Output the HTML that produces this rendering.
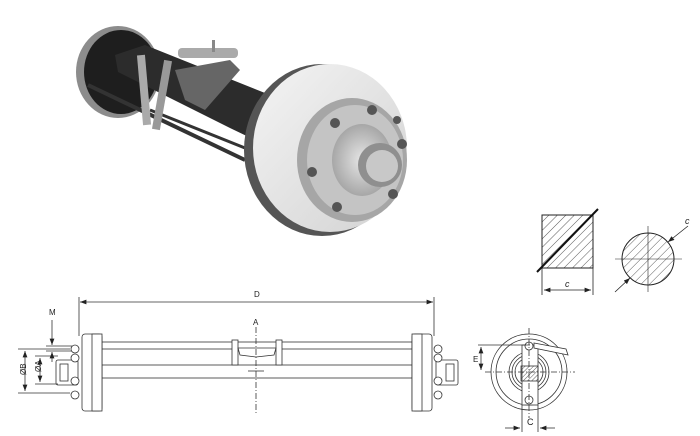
<!DOCTYPE html>
<html><head><meta charset="utf-8"><style>html,body{margin:0;padding:0;background:#fff}svg{display:block}text{font-family:"Liberation Sans",sans-serif;fill:#222}</style></head><body>
<svg width="700" height="436" viewBox="0 0 700 436" xmlns="http://www.w3.org/2000/svg">
<defs>
<pattern id="h" width="6" height="6" patternUnits="userSpaceOnUse" patternTransform="rotate(45)"><line x1="0" y1="0" x2="0" y2="6" stroke="#333" stroke-width="0.8"/></pattern>
<pattern id="h2" width="3" height="3" patternUnits="userSpaceOnUse" patternTransform="rotate(45)"><line x1="0" y1="0" x2="0" y2="3" stroke="#333" stroke-width="0.8"/></pattern>
<marker id="ar" markerWidth="8" markerHeight="6" refX="8" refY="3" orient="auto"><path d="M0,0 L8,3 L0,6z" fill="#222"/></marker>
<marker id="al" markerWidth="8" markerHeight="6" refX="0" refY="3" orient="auto"><path d="M8,0 L0,3 L8,6z" fill="#222"/></marker>
<linearGradient id="face" x1="0" y1="0" x2="1" y2="1"><stop offset="0" stop-color="#f4f4f4"/><stop offset="1" stop-color="#d2d2d2"/></linearGradient>
<radialGradient id="hub" cx="0.5" cy="0.5" r="0.6"><stop offset="0" stop-color="#e6e6e6"/><stop offset="1" stop-color="#9a9a9a"/></radialGradient>
</defs>
<!-- photo -->
<ellipse cx="118" cy="72" rx="42" ry="46" fill="#8c8c8c"/>
<ellipse cx="121" cy="72" rx="37" ry="42" fill="#1e1e1e"/>
<polygon points="115,55 145,45 270,95 255,140 230,128 118,72" fill="#2c2c2c"/>
<polygon points="175,70 230,60 240,70 205,110 185,100" fill="#666"/>
<rect x="178" y="48" width="60" height="10" rx="4" fill="#aaa"/>
<rect x="212" y="40" width="3" height="12" fill="#888"/>
<line x1="88" y1="85" x2="245" y2="160" stroke="#333" stroke-width="4"/>
<line x1="150" y1="110" x2="250" y2="150" stroke="#333" stroke-width="3"/>
<rect x="140" y="55" width="8" height="70" fill="#aaa" transform="rotate(-5 144 90)"/>
<rect x="158" y="60" width="8" height="70" fill="#999" transform="rotate(10 162 95)"/>
<ellipse cx="322" cy="150" rx="78" ry="86" fill="#555"/>
<ellipse cx="330" cy="148" rx="77" ry="84" fill="url(#face)"/>
<ellipse cx="352" cy="160" rx="55" ry="62" fill="#a6a6a6"/>
<ellipse cx="355" cy="160" rx="48" ry="55" fill="#c4c4c4"/>
<ellipse cx="362" cy="160" rx="30" ry="36" fill="url(#hub)"/>
<circle cx="380" cy="165" r="22" fill="#8f8f8f"/>
<circle cx="382" cy="166" r="16" fill="#c8c8c8"/>
<g fill="#555"><circle cx="372" cy="110" r="5"/><circle cx="335" cy="123" r="5"/><circle cx="402" cy="144" r="5"/><circle cx="312" cy="172" r="5"/><circle cx="393" cy="194" r="5"/><circle cx="337" cy="207" r="5"/><circle cx="397" cy="120" r="4"/></g>
<!-- square section -->
<rect x="542" y="215" width="51" height="53" fill="url(#h)" stroke="#222" stroke-width="1"/>
<line x1="537" y1="272" x2="598" y2="209" stroke="#111" stroke-width="2"/>
<line x1="542" y1="268" x2="542" y2="295" stroke="#222" stroke-width="0.8"/>
<line x1="593" y1="268" x2="593" y2="295" stroke="#222" stroke-width="0.8"/>
<line x1="544" y1="290" x2="591" y2="290" stroke="#222" stroke-width="0.8" marker-end="url(#ar)" marker-start="url(#al)"/>
<text x="565" y="287" font-size="9" font-style="italic">c</text>
<!-- round section -->
<circle cx="648" cy="259" r="26" fill="url(#h)" stroke="#222" stroke-width="1"/>
<line x1="615" y1="259" x2="682" y2="259" stroke="#222" stroke-width="0.6"/>
<line x1="648" y1="226" x2="648" y2="292" stroke="#222" stroke-width="0.6"/>
<line x1="688" y1="226" x2="668" y2="242" stroke="#222" stroke-width="0.8" marker-end="url(#ar)"/>
<line x1="615" y1="292" x2="630" y2="278" stroke="#222" stroke-width="0.8" marker-end="url(#ar)"/>
<text x="685" y="224" font-size="9" font-style="italic">c</text>
<!-- side drawing -->
<g stroke="#333" stroke-width="0.8" fill="#fff">
<line x1="80" y1="302" x2="433" y2="302" marker-start="url(#al)" marker-end="url(#ar)"/>
<line x1="79" y1="297" x2="79" y2="336" /><line x1="434" y1="297" x2="434" y2="336"/>
<rect x="102" y="342" width="310" height="7"/>
<rect x="102" y="365" width="310" height="13"/>
<rect x="232" y="340" width="6" height="25"/><rect x="276" y="340" width="6" height="25"/>
<path d="M238,348 L276,348 L274,355 L256,357 L240,355z"/>
<rect x="82" y="334" width="20" height="77" rx="3"/><rect x="92" y="334" width="10" height="77"/>
<rect x="412" y="334" width="20" height="77" rx="3"/><rect x="412" y="334" width="10" height="77"/>
<rect x="56" y="360" width="22" height="25" rx="2"/><rect x="60" y="364" width="8" height="17"/>
<rect x="436" y="360" width="22" height="25" rx="2"/><rect x="446" y="364" width="8" height="17"/>
<circle cx="75" cy="349" r="4"/><circle cx="75" cy="358" r="4"/><circle cx="75" cy="381" r="4"/><circle cx="75" cy="395" r="4"/>
<circle cx="438" cy="349" r="4"/><circle cx="438" cy="358" r="4"/><circle cx="438" cy="381" r="4"/><circle cx="438" cy="395" r="4"/>
<line x1="256" y1="327" x2="256" y2="415" stroke-dasharray="6,2,1,2"/>
<line x1="248" y1="371" x2="264" y2="371"/>
<line x1="18" y1="349" x2="70" y2="349"/><line x1="18" y1="393" x2="70" y2="393"/>
<line x1="25" y1="351" x2="25" y2="391" marker-start="url(#al)" marker-end="url(#ar)"/>
<line x1="35" y1="356" x2="58" y2="356"/><line x1="35" y1="384" x2="58" y2="384"/>
<line x1="40" y1="358" x2="40" y2="382" marker-start="url(#al)" marker-end="url(#ar)"/>
<line x1="52" y1="320" x2="52" y2="345" marker-end="url(#ar)"/>
<line x1="52" y1="362" x2="52" y2="352" marker-end="url(#ar)"/>
<line x1="46" y1="346" x2="72" y2="346"/><line x1="46" y1="351" x2="72" y2="351"/>
</g>
<text x="254" y="297" font-size="8">D</text>
<text x="253" y="325" font-size="8">A</text>
<text x="49" y="315" font-size="8">M</text>
<text x="22" y="379" font-size="8" transform="rotate(-90 22 375)">ØB</text>
<text x="37" y="376" font-size="8" transform="rotate(-90 37 372)">ØA</text>
<!-- end view -->
<g stroke="#333" stroke-width="0.8" fill="none">
<circle cx="529" cy="372" r="38"/><circle cx="529" cy="372" r="33"/>
<circle cx="529" cy="372" r="20"/><circle cx="529" cy="372" r="17"/><circle cx="529" cy="372" r="14"/>
<rect x="522" y="345" width="16" height="60" fill="#fff"/>
<rect x="521" y="366" width="17" height="15" fill="url(#h2)"/>
<circle cx="529" cy="346" r="4" fill="#fff"/><circle cx="529" cy="400" r="4"/>
<path d="M534,343 L566,349 L568,355 L534,348z" fill="#fff"/>
<line x1="485" y1="372" x2="575" y2="372" stroke-dasharray="6,2,1,2"/>
<line x1="529" y1="328" x2="529" y2="418" stroke-dasharray="6,2,1,2"/>
<line x1="478" y1="345" x2="530" y2="345"/>
<line x1="481" y1="347" x2="481" y2="370" marker-start="url(#al)" marker-end="url(#ar)"/>
<line x1="522" y1="405" x2="522" y2="432"/><line x1="538" y1="405" x2="538" y2="432"/>
<line x1="505" y1="428" x2="520" y2="428" marker-end="url(#ar)"/>
<line x1="555" y1="428" x2="540" y2="428" marker-end="url(#ar)"/>
</g>
<text x="473" y="362" font-size="8">E</text>
<text x="527" y="425" font-size="9">C</text>
</svg>
</body></html>
